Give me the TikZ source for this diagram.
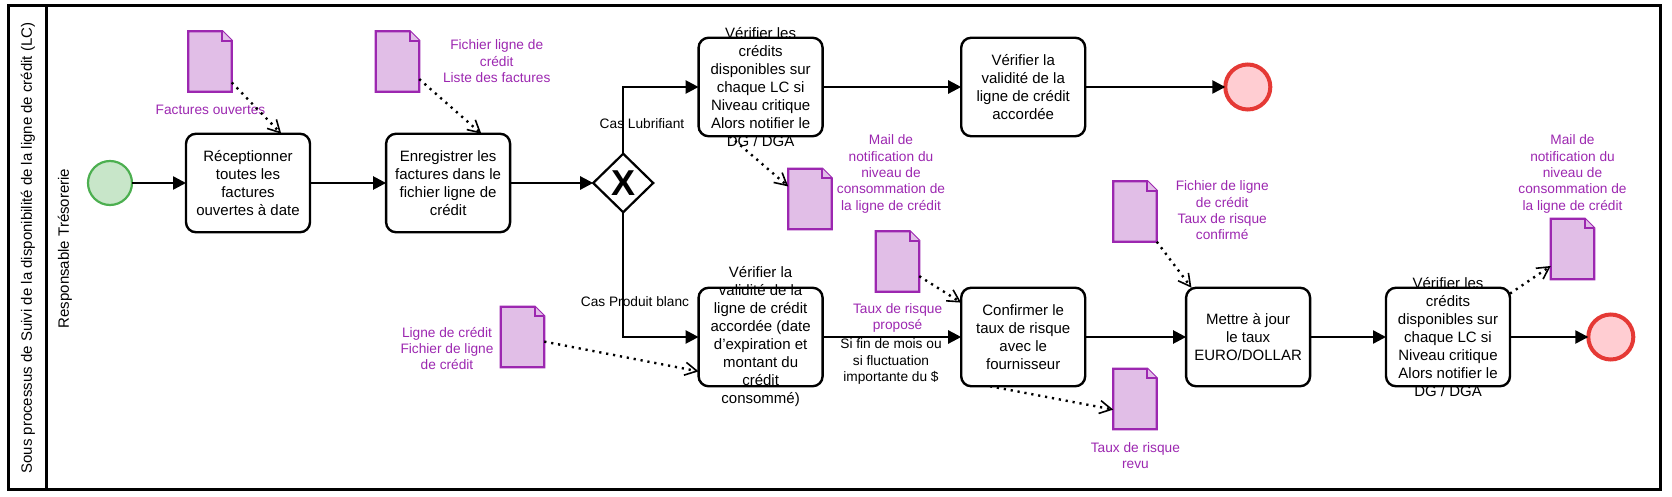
\documentclass[tikz,border=0pt]{standalone}
\usepackage{fontspec}
\setmainfont{Liberation Sans}
\usetikzlibrary{arrows.meta,shapes.geometric}
\definecolor{docpurple}{HTML}{9C27B0}
\definecolor{docfill}{HTML}{E1BEE7}
\definecolor{startgreen}{HTML}{4CAF50}
\definecolor{startfill}{HTML}{C8E6C9}
\definecolor{endred}{HTML}{E53935}
\definecolor{endfill}{HTML}{FFCDD2}
\tikzset{
  lanebox/.style={draw,line width=2.8pt,rectangle,inner sep=0,outer sep=0},
  lanetext/.style={rotate=90,inner sep=0,font=\fontsize{15}{18}\selectfont},
  taskbox/.style={draw,line width=2.4pt,rectangle,rounded corners=10pt,inner sep=0,outer sep=0,
    minimum width=124pt,minimum height=98.5pt,align=center,font=\fontsize{15}{18}\selectfont},
  tasktext/.style={inner sep=0,align=center,font=\fontsize{15}{18}\selectfont},
  startev/.style={draw=startgreen,fill=startfill,line width=2.2pt,circle,inner sep=0,outer sep=0,
    minimum size=44pt},
  endev/.style={draw=endred,fill=endfill,line width=4pt,circle,inner sep=0,outer sep=0,
    minimum size=45pt},
  gatebox/.style={draw,line width=2.2pt,diamond,inner sep=0,outer sep=0,
    minimum width=60pt,minimum height=58.5pt},
  gatetext/.style={inner sep=0,font=\fontsize{36}{36}\selectfont\bfseries},
  docbox/.style={inner sep=0,outer sep=0,minimum width=43.5pt,minimum height=60.5pt},
  docline/.style={draw=docpurple,fill=docfill,line width=2.2pt},
  doctext/.style={inner sep=0,align=center,text=docpurple,font=\fontsize{13.7}{16.4}\selectfont},
  flowtext/.style={inner sep=0,align=center,font=\fontsize{13.7}{16.4}\selectfont},
  flow/.style={line width=2.4pt,-{Triangle[length=13pt,width=13pt]}},
  datalink/.style={line width=2.4pt,dash pattern=on 2.2pt off 4.8pt,
    -{Straight Barb[length=12pt,width=13pt,line width=1.6pt]}}
}
\newcommand{\docnode}[3]{%
  \node[docbox] (#1) at (#2,#3) {};
  \draw[docline] (#1.north west) -- ++(34,0) -- ++(9.5,9.5) -- (#1.south east) -- (#1.south west) -- cycle;
  \draw[docline] (#1.north west) ++(34,0) -- ++(0,9.5) -- ++(9.5,0);
}

\begin{document}
\begin{tikzpicture}[x=1pt, y=-1pt]
\useasboundingbox (0,0) rectangle (1672,497);

\node[lanebox,minimum width=38.2pt,minimum height=483.6pt] (header) at (27.6,247.5) {};
\node[lanebox,minimum width=1613.8pt,minimum height=483.6pt] (lane) at (853.6,247.5) {};
\node[lanetext] (headertext) at (28,248) {Sous processus de Suivi de la disponibilité de la ligne de crédit (LC)};
\node[lanetext] (lanetext) at (65,248.5) {Responsable Trésorerie};

\node[startev] (start) at (110,183) {};
\node[taskbox] (recept) at (248,183) {Réceptionner\\toutes les\\factures\\ouvertes à date};
\node[taskbox] (enreg) at (448.1,183) {Enregistrer les\\factures dans le\\fichier ligne de\\crédit};
\node[gatebox] (gate) at (623.2,183) {};
\node[gatetext] (gatex) at (623.2,183) {X};

\node[taskbox] (verifa) at (760.6,87) {};
\node[tasktext] (verifatext) at (760.6,87) {Vérifier les\\crédits\\disponibles sur\\chaque LC si\\Niveau critique\\Alors notifier le\\DG / DGA};
\node[taskbox] (valida) at (1023.2,87) {Vérifier la\\validité de la\\ligne de crédit\\accordée};
\node[endev] (enda) at (1247.8,87) {};

\node[taskbox] (validb) at (760.6,337) {};
\node[tasktext] (validbtext) at (760.6,337) {Vérifier la\\validité de la\\ligne de crédit\\accordée (date\\d’expiration et\\montant du\\crédit\\consommé)};
\node[taskbox] (confirm) at (1023.2,337) {Confirmer le\\taux de risque\\avec le\\fournisseur};
\node[taskbox] (maj) at (1248.1,337) {Mettre à jour\\le taux\\EURO/DOLLAR};
\node[taskbox] (verifb) at (1448,337) {};
\node[tasktext] (verifbtext) at (1448,337) {Vérifier les\\crédits\\disponibles sur\\chaque LC si\\Niveau critique\\Alors notifier le\\DG / DGA};
\node[endev] (endb) at (1610.8,337) {};

\docnode{docfact}{210}{61.5}
\docnode{docfich}{397.5}{61.5}
\docnode{docligne}{522.5}{337}
\docnode{docmaila}{810}{199}
\docnode{doctaux}{897.5}{261.5}
\docnode{docconf}{1135}{211.5}
\docnode{docrevu}{1135}{399}
\docnode{docmailb}{1572.5}{249}

\node[doctext] (lblfact) at (210.5,110) {Factures ouvertes};
\node[doctext] (lblfich) at (496.7,61.5) {Fichier ligne de\\crédit\\Liste des factures};
\node[doctext] (lblligne) at (447,348.5) {Ligne de crédit\\Fichier de ligne\\de crédit};
\node[doctext] (lblmaila) at (891,174) {Mail de\\notification du\\niveau de\\consommation de\\la ligne de crédit};
\node[doctext] (lbltaux) at (897.6,318) {Taux de risque\\proposé};
\node[doctext] (lblconf) at (1222.2,210.5) {Fichier de ligne\\de crédit\\Taux de risque\\confirmé};
\node[doctext] (lblrevu) at (1135.4,455.5) {Taux de risque\\revu};
\node[doctext] (lblmailb) at (1572.5,174) {Mail de\\notification du\\niveau de\\consommation de\\la ligne de crédit};

\node[flowtext] (lbllub) at (642,123.5) {Cas Lubrifiant};
\node[flowtext] (lblprod) at (635,302) {Cas Produit blanc};
\node[flowtext] (lblfin) at (891,361.5) {Si fin de mois ou\\si fluctuation\\importante du \$};

\draw[flow] (start) -- (recept);
\draw[flow] (recept) -- (enreg);
\draw[flow] (enreg) -- (gate);
\draw[flow] (gate.north) |- (verifa);
\draw[flow] (gate.south) |- (validb);
\draw[flow] (verifa) -- (valida);
\draw[flow] (valida) -- (enda);
\draw[flow] (validb) -- (confirm);
\draw[flow] (confirm) -- (maj);
\draw[flow] (maj) -- (verifb);
\draw[flow] (verifb) -- (endb);

\draw[datalink] (docfact.-44.7) -- (recept.56.3);
\draw[datalink] (docfich.-39) -- (enreg.56.3);
\draw[datalink] (docligne.-12.4) -- (validb.209);
\draw[datalink] (verifa.238) -- (docmaila.150.2);
\draw[datalink] (doctaux.-34) -- (confirm.151.6);
\draw[datalink] (docconf.south east) -- (maj.139.4);
\draw[datalink] (confirm.236) -- (docrevu.206);
\draw[datalink] (verifb.35) -- (docmailb.218.6);

\end{tikzpicture}
\end{document}
